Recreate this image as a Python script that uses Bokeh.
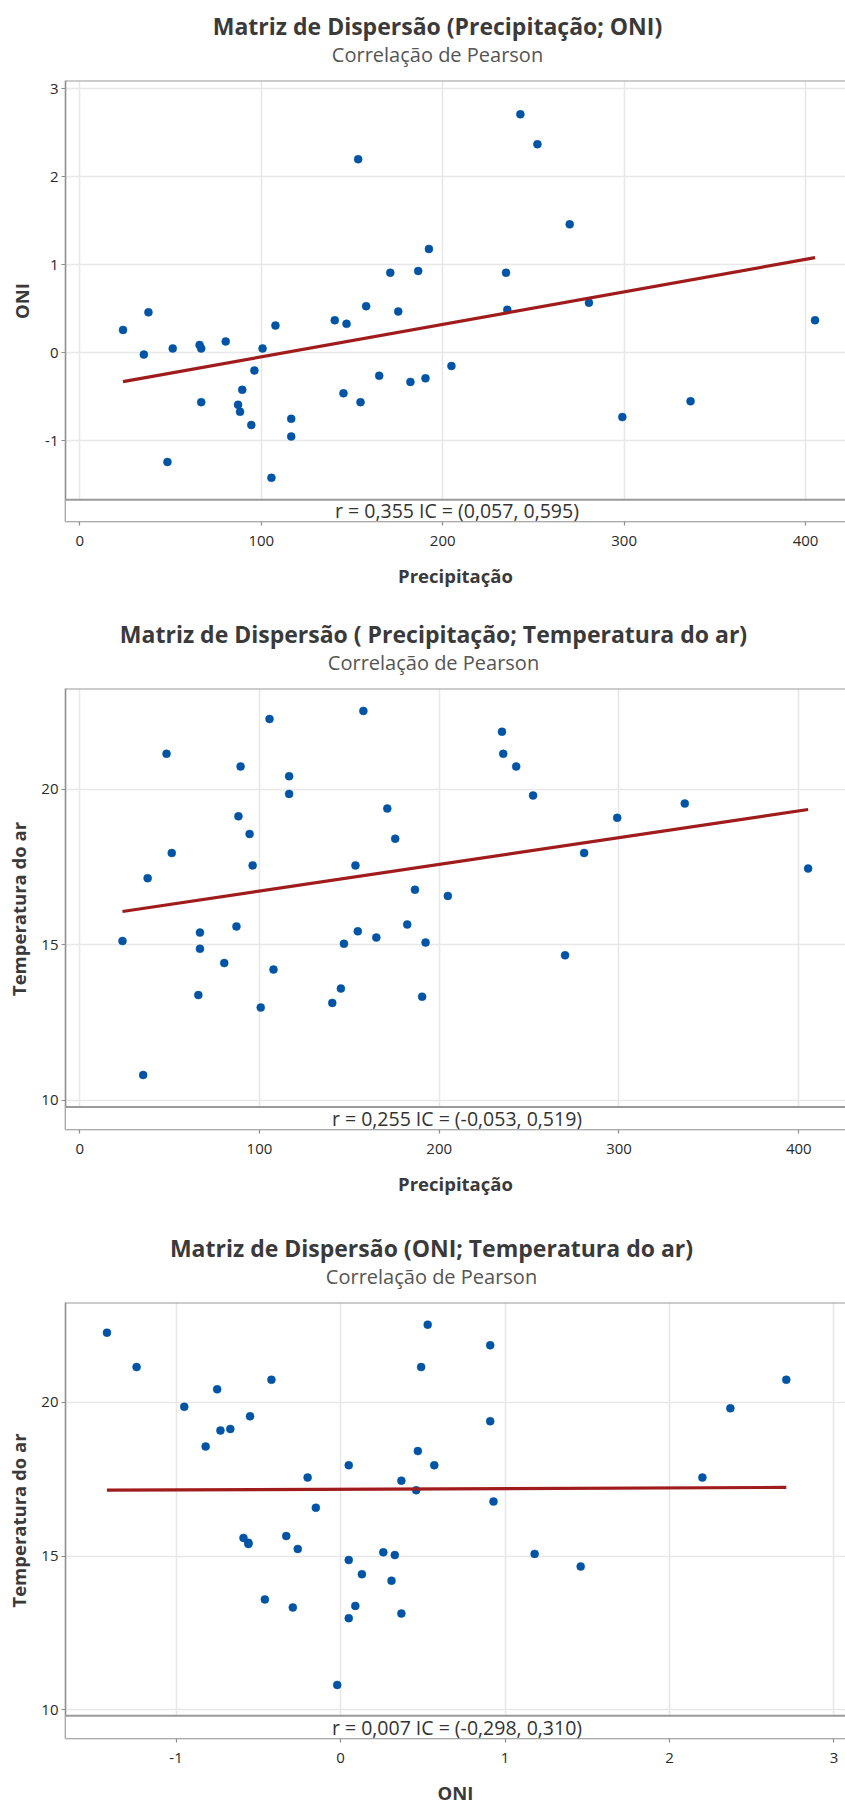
import numpy as np
from bokeh.plotting import figure
from bokeh.layouts import column
from bokeh.models import Range1d, FixedTicker, Span, BoxAnnotation, Label
from bokeh.core.properties import value
from bokeh.embed import file_html
from bokeh.resources import INLINE

# ---- data ----
precipitacao = [23.8, 35.3, 37.8, 48.3, 51.2, 66.0, 66.9, 66.9, 80.4, 87.2,
                88.3, 89.5, 94.5, 96.2, 100.7, 105.6, 107.8, 116.5, 116.5, 140.5,
                145.3, 147.0, 153.4, 154.7, 157.8, 165.0, 171.1, 175.5, 182.2, 186.5,
                190.5, 192.4, 204.8, 234.9, 235.6, 242.8, 252.2, 270.0, 280.6, 299.0,
                336.6, 405.2]
oni = [0.26, -0.02, 0.46, -1.24, 0.05, 0.09, 0.05, -0.56, 0.13, -0.59,
       -0.67, -0.42, -0.82, -0.20, 0.05, -1.42, 0.31, -0.75, -0.95, 0.37,
       -0.46, 0.33, 2.20, -0.56, 0.53, -0.26, 0.91, 0.47, -0.33, 0.93,
       -0.29, 1.18, -0.15, 0.91, 0.49, 2.71, 2.37, 1.46, 0.57, -0.73,
       -0.55, 0.37]
temperatura = [15.12, 10.81, 17.14, 21.14, 17.95, 13.38, 14.87, 15.39, 14.41, 15.59,
               19.13, 20.73, 18.56, 17.55, 12.98, 22.26, 14.20, 20.42, 19.85, 13.13,
               13.59, 15.03, 17.55, 15.43, 22.52, 15.23, 19.38, 18.41, 15.65, 16.77,
               13.33, 15.07, 16.57, 21.85, 21.14, 20.73, 19.80, 14.66, 17.95, 19.08,
               19.54, 17.45]

titulos = ["Matriz de Dispersão (Precipitação; ONI)",
           "Matriz de Dispersão ( Precipitação; Temperatura do ar)",
           "Matriz de Dispersão (ONI; Temperatura do ar)"]
subtitulo = "Correlação de Pearson"
estatisticas = ["r = 0,355  IC = (0,057, 0,595)",
                "r = 0,255  IC = (-0,053, 0,519)",
                "r = 0,007  IC = (-0,298, 0,310)"]
ticks_precip = [0, 100, 200, 300, 400]
ticks_oni = [-1, 0, 1, 2, 3]
ticks_temp = [10, 15, 20]

FONT = "Open Sans"
BLUE = "#0054A6"
RED = "#A01C1C"
AXIS = "#8E8E8E"
FRAME = "#9A9A9A"
GRID = "#E8E8E8"
W = 845
LEFT = 65
PAD = 10  # small top border of each plot so the top tick label is not cut

panels = [
    dict(x=precipitacao, y=oni, title=titulos[0], xlabel="Precipitação", ylabel="ONI",
         xr=(-7.9, 422.0), yr=(-1.916, 3.094), box_top=-1.67, xt=ticks_precip, yt=ticks_oni,
         stat=estatisticas[0], head=80, frame=441, bottom=79, tx=437, ylab_standoff=8),
    dict(x=precipitacao, y=temperatura, title=titulos[1], xlabel="Precipitação",
         ylabel="Temperatura do ar", xr=(-7.9, 426.0), yr=(9.058, 23.24), box_top=9.785,
         xt=ticks_precip, yt=ticks_temp, stat=estatisticas[1], head=88, frame=441, bottom=86,
         tx=433, ylab_standoff=7),
    dict(x=oni, y=temperatura, title=titulos[2], xlabel="ONI", ylabel="Temperatura do ar",
         xr=(-1.672, 3.07), yr=(9.07, 23.24), box_top=9.81, xt=ticks_oni, yt=ticks_temp,
         stat=estatisticas[2], head=87, frame=442, bottom=63, tx=431, ylab_standoff=7),
]


def header(cfg):
    hh = cfg["head"] - PAD
    # frame aligned with the plots below (left border LEFT), so x maps 1:1 to page pixels
    h = figure(width=W, height=hh, x_range=Range1d(LEFT, W), y_range=Range1d(hh, 0),
               output_backend="svg", toolbar_location=None, x_axis_type=None,
               y_axis_type=None, min_border_left=LEFT, min_border_right=0,
               min_border_top=0, min_border_bottom=0)
    h.outline_line_color = None
    h.grid.visible = False
    h.text(x=[cfg["tx"]], y=[cfg["head"] - 55], text=[cfg["title"]], text_align="center",
           text_baseline="middle", text_font=value(FONT), text_font_style="bold",
           text_font_size="23px", text_color="#3a3a3a")
    h.text(x=[cfg["tx"]], y=[cfg["head"] - 26], text=[subtitulo], text_align="center",
           text_baseline="middle", text_font=value(FONT), text_font_size="20px",
           text_color="#555555")
    return h


def make(cfg):
    h = PAD + cfg["frame"] + cfg["bottom"]
    p = figure(width=W, height=h, x_range=Range1d(*cfg["xr"]), y_range=Range1d(*cfg["yr"]),
               output_backend="svg", toolbar_location=None,
               min_border_left=LEFT, min_border_right=0,
               min_border_top=PAD, min_border_bottom=cfg["bottom"])
    p.outline_line_color = None
    p.background_fill_color = "white"
    p.border_fill_color = "white"

    p.xaxis.ticker = FixedTicker(ticks=cfg["xt"])
    p.yaxis.ticker = FixedTicker(ticks=cfg["yt"])
    p.xaxis.major_label_overrides = {t: str(t) for t in cfg["xt"]}
    p.yaxis.major_label_overrides = {t: str(t) for t in cfg["yt"]}
    for ax in (p.xaxis, p.yaxis):
        ax.axis_line_color = AXIS
        ax.axis_line_width = 1.6
        ax.major_tick_line_color = AXIS
        ax.major_tick_line_width = 1.2
        ax.major_tick_out = 4
        ax.major_tick_in = 0
        ax.minor_tick_line_color = None
        ax.major_label_text_font = FONT
        ax.major_label_text_font_size = "15px"
        ax.major_label_text_color = "#2a2a2a"
        ax.axis_label_text_font = FONT
        ax.axis_label_text_font_style = "bold"
        ax.axis_label_text_font_size = "18.5px"
        ax.axis_label_text_color = "#3a3a3a"
    p.xaxis.major_label_standoff = 10
    p.yaxis.major_label_standoff = 3
    p.xaxis.axis_label_standoff = 14
    p.yaxis.axis_label_standoff = int(cfg["ylab_standoff"])
    p.xaxis.axis_label = cfg["xlabel"]
    p.yaxis.axis_label = cfg["ylabel"]

    p.grid.grid_line_color = GRID
    p.grid.grid_line_width = 1.6

    xs = np.array(cfg["x"], dtype=float)
    ys = np.array(cfg["y"], dtype=float)
    p.scatter(xs, ys, size=8, fill_color=BLUE, line_color=BLUE, line_width=0.5)
    coef = np.polyfit(xs, ys, 1)
    xl = np.array([xs.min(), xs.max()])
    p.line(xl, np.polyval(coef, xl), line_color=RED, line_width=3.2)

    # statistics box at the bottom of the frame
    p.add_layout(BoxAnnotation(top=cfg["box_top"], fill_color="white", fill_alpha=1.0,
                               line_color=None))
    p.add_layout(Span(location=cfg["box_top"], dimension="width", line_color=FRAME,
                      line_width=2))
    p.add_layout(Span(location=cfg["yr"][1], dimension="width", line_color=FRAME,
                      line_width=2.2))
    p.add_layout(Label(x=394, x_units="screen", y=(cfg["box_top"] + cfg["yr"][0]) / 2,
                       text=cfg["stat"], text_align="center", text_baseline="middle",
                       text_font=FONT, text_font_size="19.5px", text_color="#333333"))
    return p


items = []
for c in panels:
    items.append(header(c))
    items.append(make(c))
layout = column(*items, spacing=0)
open("out.html", "w").write(file_html(layout, INLINE))
